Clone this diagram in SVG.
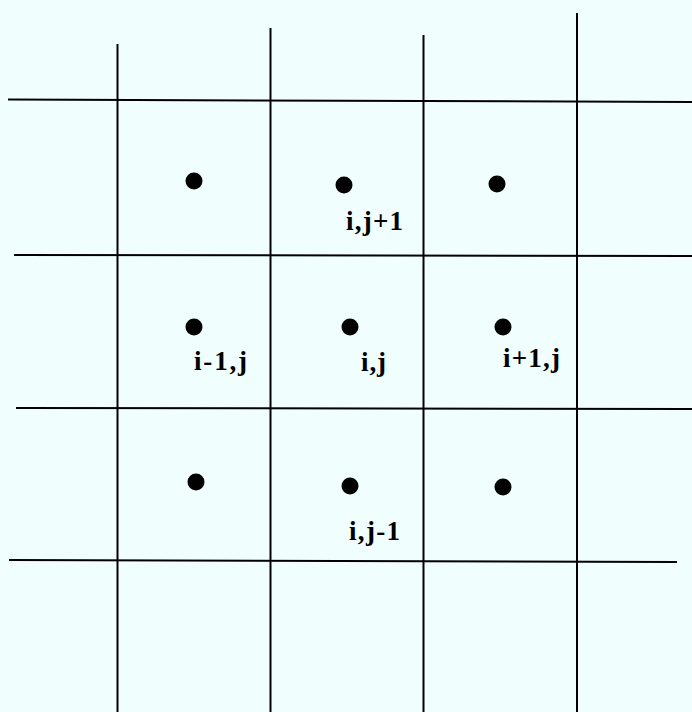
<svg xmlns="http://www.w3.org/2000/svg" width="692" height="712" viewBox="0 0 692 712">
<style>
.g{stroke:#000;stroke-width:2;fill:none}
.d{fill:#000}
.t{font-family:"Liberation Serif","Times New Roman",serif;font-size:27px;font-weight:bold;fill:#000}
</style>
<rect x="0" y="0" width="692" height="712" fill="#F0FEFE"/>
<g id="grid" class="g">
<line x1="117.5" y1="44" x2="117.5" y2="712"/>
<line x1="270.5" y1="28" x2="270.5" y2="712"/>
<line x1="423.5" y1="35" x2="423.5" y2="712"/>
<line x1="577" y1="13" x2="577" y2="712"/>
<line x1="8" y1="99.5" x2="692" y2="102"/>
<line x1="14" y1="255" x2="692" y2="256"/>
<line x1="16" y1="408" x2="692" y2="409"/>
<line x1="9" y1="560" x2="677" y2="562"/>
</g>
<g id="n1"><circle class="d" cx="194" cy="181" r="8.5"/></g>
<g id="n2"><circle class="d" cx="344" cy="185" r="8.5"/><text class="t" x="346" y="230" textLength="57" lengthAdjust="spacing">i,j+1</text></g>
<g id="n3"><circle class="d" cx="497" cy="184" r="8.5"/></g>
<g id="n4"><circle class="d" cx="194" cy="327" r="8.5"/><text class="t" x="194" y="370" textLength="53" lengthAdjust="spacing">i-1,j</text></g>
<g id="n5"><circle class="d" cx="350" cy="327" r="8.5"/><text class="t" x="361" y="371" textLength="25" lengthAdjust="spacing">i,j</text></g>
<g id="n6"><circle class="d" cx="503" cy="327" r="8.5"/><text class="t" x="503" y="367" textLength="57" lengthAdjust="spacing">i+1,j</text></g>
<g id="n7"><circle class="d" cx="196" cy="482" r="8.5"/></g>
<g id="n8"><circle class="d" cx="350" cy="486" r="8.5"/><text class="t" x="349" y="540" textLength="51" lengthAdjust="spacing">i,j-1</text></g>
<g id="n9"><circle class="d" cx="503" cy="487" r="8.5"/></g>
</svg>
